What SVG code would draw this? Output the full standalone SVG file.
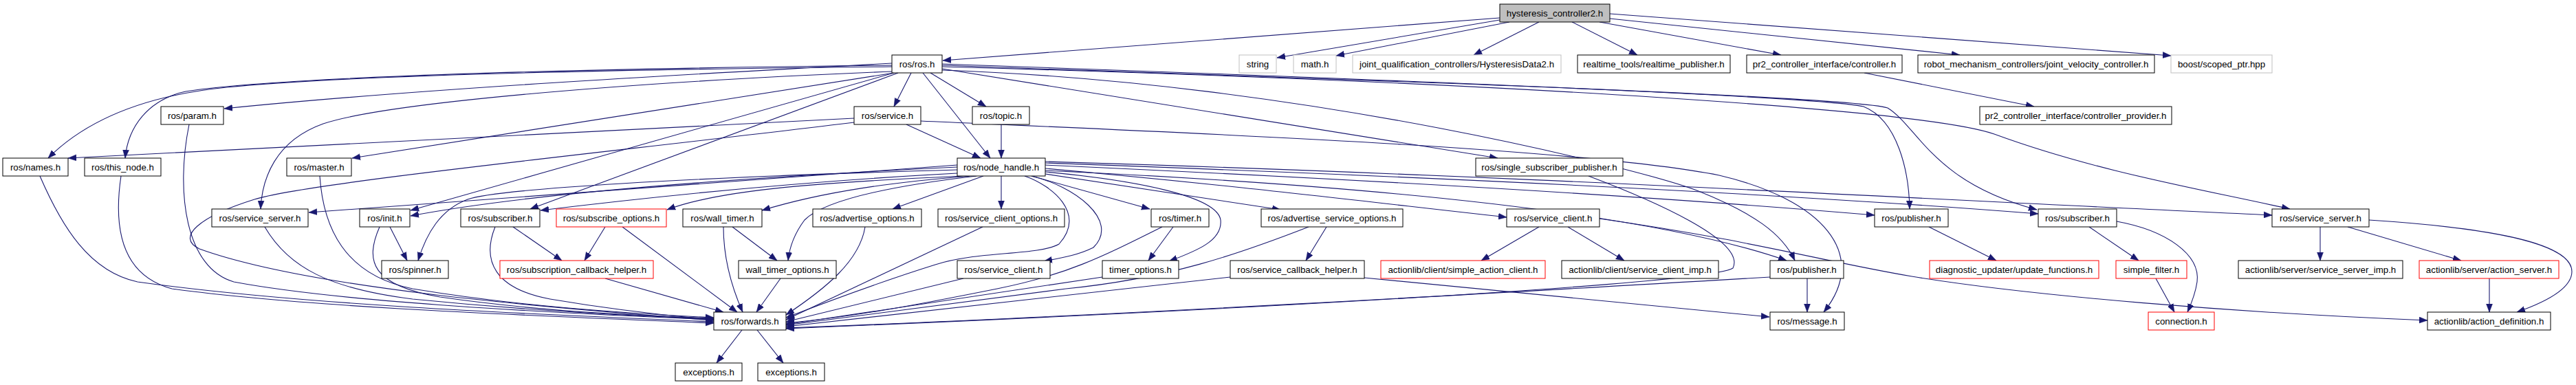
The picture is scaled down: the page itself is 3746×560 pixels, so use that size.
<svg xmlns="http://www.w3.org/2000/svg" width="3746" height="560" viewBox="0 0 3746 560">
<style>
.e{fill:none;stroke:#191970;stroke-width:1.1;marker-end:url(#a)}
rect{fill:#fff;stroke:#000;stroke-width:1}
.g rect{stroke:#bfbfbf}
.r rect{stroke:#ff0000}
.root rect{fill:#bfbfbf}
text{font-family:"Liberation Sans",Arial,Helvetica,sans-serif;font-size:13.3px;fill:#000;text-anchor:middle}
</style>
<defs>
<marker id="a" viewBox="0 0 12 10" refX="12" refY="5" markerWidth="12" markerHeight="10" markerUnits="userSpaceOnUse" orient="auto"><path d="M0,0.5L12,5L0,9.5z" fill="#191970" stroke="#191970" stroke-width="0.5"/></marker>
</defs>
<rect x="0" y="0" width="3746" height="560" style="fill:#fff;stroke:none"/>
<g id="connectors">
<path class="e" d="M2181,26 L1371,88"/>
<path class="e" d="M2181,29 L1857,84"/>
<path class="e" d="M2195,32 L1943,81"/>
<path class="e" d="M2238,32 L2143,80"/>
<path class="e" d="M2286,32 L2381,80"/>
<path class="e" d="M2326,32 L2590,80"/>
<path class="e" d="M2341,27 L2850,80"/>
<path class="e" d="M2341,20 L3157,81"/>
<path class="e" d="M1297,97 C900,101 500,110 330,127 C200,140 120,180 70,230"/>
<path class="e" d="M1297,95 C900,99 420,110 270,133 C215,145 186,185 182,230"/>
<path class="e" d="M1297,92 C1000,108 600,130 326,158"/>
<path class="e" d="M1297,104 C900,120 560,150 470,180 C400,205 381,260 379,304"/>
<path class="e" d="M1300,106 L512,230"/>
<path class="e" d="M1300,106 L597,306"/>
<path class="e" d="M1306,106 L771,304"/>
<path class="e" d="M1325,106 L1300,155"/>
<path class="e" d="M1342,106 L1440,230"/>
<path class="e" d="M1353,106 L1434,155"/>
<path class="e" d="M1370,100 L2178,230"/>
<path class="e" d="M1370,102 C1900,120 2400,250 2470,278 C2550,310 2592,340 2610,379"/>
<path class="e" d="M1370,93 C2000,115 2650,140 2710,155 C2760,175 2776,250 2777,304"/>
<path class="e" d="M1370,95 C2000,117 2690,140 2745,157 C2790,185 2810,265 2962,305"/>
<path class="e" d="M1370,97 C2200,120 2800,160 2900,195 C3050,250 3200,275 3330,304"/>
<path class="e" d="M1456,181 L1456,230"/>
<path class="e" d="M1318,181 L1426,230"/>
<path class="e" d="M1242,172 L99,230"/>
<path class="e" d="M1242,178 C900,220 450,265 370,290 C290,315 255,345 290,362 C450,420 800,448 1038,466"/>
<path class="e" d="M1339,176 C1700,192 2300,215 2500,255 C2650,290 2720,370 2652,454"/>
<path class="e" d="M58,256 C90,330 130,395 200,410 C450,445 800,458 1038,468"/>
<path class="e" d="M176,256 C165,330 175,400 250,420 C450,448 800,460 1038,470"/>
<path class="e" d="M275,181 C255,280 270,390 340,410 C500,440 800,455 1038,465"/>
<path class="e" d="M465,256 C470,330 500,400 600,420 C750,445 900,455 1038,462"/>
<path class="e" d="M385,330 C420,390 480,420 600,435 C800,455 950,460 1038,464"/>
<path class="e" d="M552,330 C530,380 540,415 640,432 C800,455 950,460 1038,463"/>
<path class="e" d="M567,330 L592,379"/>
<path class="e" d="M1392,247 C1000,258 720,275 680,290 C640,305 620,340 608,379"/>
<path class="e" d="M1392,243 C1000,262 750,285 597,314"/>
<path class="e" d="M1392,252 C1200,262 1000,280 786,306"/>
<path class="e" d="M1392,240 L449,309"/>
<path class="e" d="M1400,256 C1200,265 1050,275 970,305"/>
<path class="e" d="M1410,256 C1300,265 1200,278 1108,306"/>
<path class="e" d="M1420,256 C1300,270 1200,290 1170,320 C1155,340 1148,360 1146,379"/>
<path class="e" d="M1430,256 L1298,304"/>
<path class="e" d="M1456,256 L1456,304"/>
<path class="e" d="M1490,256 C1530,270 1580,310 1540,355 C1510,372 1420,365 1360,385 C1280,410 1200,440 1143,462"/>
<path class="e" d="M1500,256 C1560,270 1630,320 1590,360 C1570,370 1550,374 1518,380"/>
<path class="e" d="M1500,256 L1672,304"/>
<path class="e" d="M1520,250 C1650,262 1770,285 1775,320 C1778,350 1740,365 1700,380"/>
<path class="e" d="M1520,253 L1862,305"/>
<path class="e" d="M1520,245 C1800,270 2000,295 2191,316"/>
<path class="e" d="M1520,240 C2000,262 2400,285 2726,313"/>
<path class="e" d="M1520,237 C2100,258 2600,282 2964,311"/>
<path class="e" d="M1520,235 C2200,255 2800,290 3304,313"/>
<path class="e" d="M1520,248 C2000,270 2400,310 2598,379"/>
<path class="e" d="M720,330 C700,380 720,420 800,435 C900,452 980,460 1038,465"/>
<path class="e" d="M905,330 L1072,454"/>
<path class="e" d="M880,405 L1052,454"/>
<path class="e" d="M1052,330 C1052,380 1065,420 1080,454"/>
<path class="e" d="M1135,405 L1100,454"/>
<path class="e" d="M1258,330 C1250,380 1200,420 1143,458"/>
<path class="e" d="M1429,330 L1143,465"/>
<path class="e" d="M1401,405 L1143,468"/>
<path class="e" d="M1690,330 C1600,375 1550,400 1450,420 C1350,440 1250,460 1143,470"/>
<path class="e" d="M1706,330 L1670,379"/>
<path class="e" d="M1603,403 L1143,472"/>
<path class="e" d="M1903,330 C1800,370 1700,405 1550,420 C1400,440 1250,460 1143,473"/>
<path class="e" d="M1929,330 L1899,379"/>
<path class="e" d="M1789,403 L1143,475"/>
<path class="e" d="M1984,404 L2573,461"/>
<path class="e" d="M2574,403 C2200,425 1600,460 1143,477"/>
<path class="e" d="M2310,256 C2400,290 2540,350 2520,390 C2480,415 1700,455 1143,478"/>
<path class="e" d="M2628,405 L2628,454"/>
<path class="e" d="M746,330 L817,379"/>
<path class="e" d="M880,330 L850,379"/>
<path class="e" d="M1065,330 L1130,379"/>
<path class="e" d="M1079,480 L1042,528"/>
<path class="e" d="M1101,480 L1139,528"/>
<path class="e" d="M2238,330 L2154,379"/>
<path class="e" d="M2280,330 L2362,379"/>
<path class="e" d="M2326,318 C2550,350 2650,380 2780,402 C2950,430 3250,455 3530,466"/>
<path class="e" d="M2805,330 L2903,379"/>
<path class="e" d="M3038,330 L3110,379"/>
<path class="e" d="M3078,322 C3150,335 3200,370 3195,410 C3192,430 3185,445 3181,454"/>
<path class="e" d="M3135,405 L3162,454"/>
<path class="e" d="M3374,330 L3374,379"/>
<path class="e" d="M3414,330 L3579,379"/>
<path class="e" d="M3445,320 C3600,330 3740,350 3740,395 C3740,420 3700,440 3660,454"/>
<path class="e" d="M3620,405 L3620,454"/>
<path class="e" d="M2711,106 L2958,155"/>
</g>
<g id="n0" class="root"><rect x="2181" y="6" width="160" height="26"/><text x="2261" y="23.5">hysteresis_controller2.h</text></g>
<g id="n1"><rect x="1297" y="80" width="73" height="26"/><text x="1333.5" y="97.5">ros/ros.h</text></g>
<g id="n2" class="g"><rect x="1802" y="80" width="54" height="26"/><text x="1829" y="97.5">string</text></g>
<g id="n3" class="g"><rect x="1881" y="80" width="62" height="26"/><text x="1912" y="97.5">math.h</text></g>
<g id="n4" class="g"><rect x="1967" y="80" width="303" height="26"/><text x="2118.5" y="97.5">joint_qualification_controllers/HysteresisData2.h</text></g>
<g id="n5"><rect x="2294" y="80" width="222" height="26"/><text x="2405" y="97.5">realtime_tools/realtime_publisher.h</text></g>
<g id="n6"><rect x="2540" y="80" width="226" height="26"/><text x="2653" y="97.5">pr2_controller_interface/controller.h</text></g>
<g id="n7"><rect x="2789" y="80" width="344" height="26"/><text x="2961" y="97.5">robot_mechanism_controllers/joint_velocity_controller.h</text></g>
<g id="n8" class="g"><rect x="3157" y="80" width="147" height="26"/><text x="3230.5" y="97.5">boost/scoped_ptr.hpp</text></g>
<g id="n9"><rect x="234" y="155" width="91" height="26"/><text x="279.5" y="172.5">ros/param.h</text></g>
<g id="n10"><rect x="1242" y="155" width="97" height="26"/><text x="1290.5" y="172.5">ros/service.h</text></g>
<g id="n11"><rect x="1414" y="155" width="83" height="26"/><text x="1455.5" y="172.5">ros/topic.h</text></g>
<g id="n12"><rect x="2879" y="155" width="279" height="26"/><text x="3018.5" y="172.5">pr2_controller_interface/controller_provider.h</text></g>
<g id="n13"><rect x="4" y="230" width="95" height="26"/><text x="51.5" y="247.5">ros/names.h</text></g>
<g id="n14"><rect x="123" y="230" width="111" height="26"/><text x="178.5" y="247.5">ros/this_node.h</text></g>
<g id="n15"><rect x="417" y="230" width="94" height="26"/><text x="464" y="247.5">ros/master.h</text></g>
<g id="n16"><rect x="1392" y="230" width="128" height="26"/><text x="1456" y="247.5">ros/node_handle.h</text></g>
<g id="n17"><rect x="2146" y="230" width="214" height="26"/><text x="2253" y="247.5">ros/single_subscriber_publisher.h</text></g>
<g id="n18"><rect x="308" y="304" width="140" height="26"/><text x="378" y="321.5">ros/service_server.h</text></g>
<g id="n19"><rect x="523" y="304" width="73" height="26"/><text x="559.5" y="321.5">ros/init.h</text></g>
<g id="n20"><rect x="670" y="304" width="115" height="26"/><text x="727.5" y="321.5">ros/subscriber.h</text></g>
<g id="n21" class="r"><rect x="809" y="304" width="160" height="26"/><text x="889" y="321.5">ros/subscribe_options.h</text></g>
<g id="n22"><rect x="993" y="304" width="115" height="26"/><text x="1050.5" y="321.5">ros/wall_timer.h</text></g>
<g id="n23"><rect x="1182" y="304" width="158" height="26"/><text x="1261" y="321.5">ros/advertise_options.h</text></g>
<g id="n24"><rect x="1364" y="304" width="184" height="26"/><text x="1456" y="321.5">ros/service_client_options.h</text></g>
<g id="n25"><rect x="1674" y="304" width="84" height="26"/><text x="1716" y="321.5">ros/timer.h</text></g>
<g id="n26"><rect x="1834" y="304" width="206" height="26"/><text x="1937" y="321.5">ros/advertise_service_options.h</text></g>
<g id="n27"><rect x="2191" y="304" width="135" height="26"/><text x="2258.5" y="321.5">ros/service_client.h</text></g>
<g id="n28"><rect x="2726" y="304" width="107" height="26"/><text x="2779.5" y="321.5">ros/publisher.h</text></g>
<g id="n29"><rect x="2964" y="304" width="114" height="26"/><text x="3021" y="321.5">ros/subscriber.h</text></g>
<g id="n30"><rect x="3304" y="304" width="141" height="26"/><text x="3374.5" y="321.5">ros/service_server.h</text></g>
<g id="n31"><rect x="555" y="379" width="97" height="26"/><text x="603.5" y="396.5">ros/spinner.h</text></g>
<g id="n32" class="r"><rect x="727" y="379" width="223" height="26"/><text x="838.5" y="396.5">ros/subscription_callback_helper.h</text></g>
<g id="n33"><rect x="1074" y="379" width="142" height="26"/><text x="1145" y="396.5">wall_timer_options.h</text></g>
<g id="n34"><rect x="1392" y="379" width="135" height="26"/><text x="1459.5" y="396.5">ros/service_client.h</text></g>
<g id="n35"><rect x="1603" y="379" width="111" height="26"/><text x="1658.5" y="396.5">timer_options.h</text></g>
<g id="n36"><rect x="1789" y="379" width="195" height="26"/><text x="1886.5" y="396.5">ros/service_callback_helper.h</text></g>
<g id="n37" class="r"><rect x="2008" y="379" width="239" height="26"/><text x="2127.5" y="396.5">actionlib/client/simple_action_client.h</text></g>
<g id="n38"><rect x="2271" y="379" width="228" height="26"/><text x="2385" y="396.5">actionlib/client/service_client_imp.h</text></g>
<g id="n39"><rect x="2574" y="379" width="107" height="26"/><text x="2627.5" y="396.5">ros/publisher.h</text></g>
<g id="n40" class="r"><rect x="2806" y="379" width="246" height="26"/><text x="2929" y="396.5">diagnostic_updater/update_functions.h</text></g>
<g id="n41" class="r"><rect x="3077" y="379" width="103" height="26"/><text x="3128.5" y="396.5">simple_filter.h</text></g>
<g id="n42"><rect x="3255" y="379" width="239" height="26"/><text x="3374.5" y="396.5">actionlib/server/service_server_imp.h</text></g>
<g id="n43" class="r"><rect x="3518" y="379" width="203" height="26"/><text x="3619.5" y="396.5">actionlib/server/action_server.h</text></g>
<g id="n44"><rect x="1038" y="454" width="105" height="26"/><text x="1090.5" y="471.5">ros/forwards.h</text></g>
<g id="n45"><rect x="2574" y="454" width="108" height="26"/><text x="2628" y="471.5">ros/message.h</text></g>
<g id="n46" class="r"><rect x="3124" y="454" width="96" height="26"/><text x="3172" y="471.5">connection.h</text></g>
<g id="n47"><rect x="3530" y="454" width="179" height="26"/><text x="3619.5" y="471.5">actionlib/action_definition.h</text></g>
<g id="n48"><rect x="982" y="528" width="97" height="26"/><text x="1030.5" y="545.5">exceptions.h</text></g>
<g id="n49"><rect x="1102" y="528" width="97" height="26"/><text x="1150.5" y="545.5">exceptions.h</text></g>
</svg>
